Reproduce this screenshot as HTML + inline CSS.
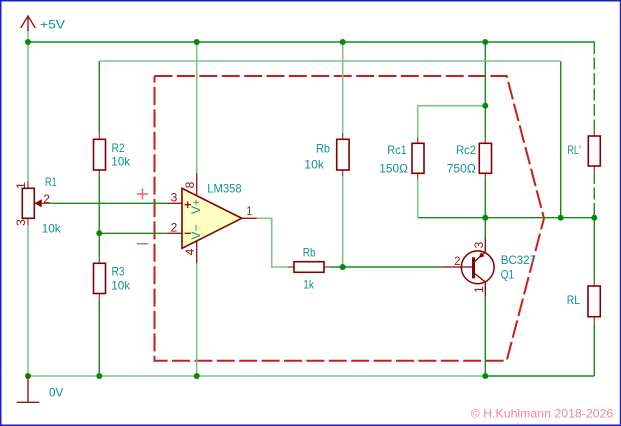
<!DOCTYPE html>
<html><head><meta charset="utf-8"><style>
html,body{margin:0;padding:0;background:#fff;}
svg{display:block;}
text{font-family:"Liberation Sans",sans-serif;font-size:12px;}
.t{fill:#138f8f;}
.p{fill:#8c1010;}
</style></head><body>
<svg width="621" height="426" viewBox="0 0 621 426" xmlns="http://www.w3.org/2000/svg">
<rect x="0" y="0" width="621" height="426" fill="#fff"/>
<rect x="0.75" y="0.75" width="619.8" height="424.5" fill="none" stroke="#1c1cc8" stroke-width="1.5"/>

<!-- red dashed boundary -->
<polyline points="154.5,76 506.7,76 544,218.3 506.7,360.7 154.5,360.7 154.5,76" fill="none" stroke="#c81e1e" stroke-width="2" stroke-dasharray="18,4.4"/>

<!-- dark green wires -->
<g stroke="#178c17" stroke-width="1.4" fill="none">
<line x1="28" y1="42" x2="594.3" y2="42"/>
<line x1="99.3" y1="61" x2="99.3" y2="133"/>
<line x1="99.3" y1="176" x2="99.3" y2="257"/>
<line x1="99.3" y1="299.5" x2="99.3" y2="376"/>
<line x1="50" y1="203.3" x2="166.7" y2="203.3"/>
<line x1="99.3" y1="233.3" x2="166.7" y2="233.3"/>
<line x1="485.3" y1="42" x2="485.3" y2="137"/>
<line x1="485.3" y1="179.5" x2="485.3" y2="237"/>
<line x1="485.3" y1="296.7" x2="485.3" y2="376"/>
<line x1="418" y1="217.7" x2="594.3" y2="217.7"/>
<line x1="560.7" y1="61" x2="560.7" y2="217.7"/>
<line x1="594.3" y1="217.7" x2="594.3" y2="280"/>
<line x1="594.3" y1="322.7" x2="594.3" y2="376"/>
<line x1="485.3" y1="376" x2="594.3" y2="376"/>
<line x1="330" y1="267" x2="441.7" y2="267"/>
<line x1="594.3" y1="42" x2="594.3" y2="130" stroke-dasharray="12,3.5"/>
<line x1="594.3" y1="172" x2="594.3" y2="217.7" stroke-dasharray="12,3.5"/>
</g>
<!-- light green wires -->
<g stroke="#80c680" stroke-width="1.6" fill="none">
<line x1="28" y1="30" x2="28" y2="181"/>
<line x1="28" y1="225" x2="28" y2="376"/>
<line x1="99.3" y1="61" x2="560.7" y2="61"/>
<line x1="196.7" y1="42" x2="196.7" y2="173"/>
<line x1="196.7" y1="263.3" x2="196.7" y2="376"/>
<line x1="342.7" y1="42" x2="342.7" y2="133"/>
<line x1="342.7" y1="176" x2="342.7" y2="267"/>
<polyline points="485.3,105.7 417.7,105.7 417.7,137.3"/>
<polyline points="417.7,179.3 417.7,217.7"/>
<line x1="28" y1="376" x2="485.3" y2="376"/>
<polyline points="256.7,218.3 271.7,218.3 271.7,267 288,267"/>
</g>

<!-- dots -->
<g fill="#088a08">
<circle cx="28" cy="42" r="3"/><circle cx="196.7" cy="42" r="3"/><circle cx="342.7" cy="42" r="3"/><circle cx="485.3" cy="42" r="3"/>
<circle cx="485.3" cy="105.7" r="3"/><circle cx="485.3" cy="217.7" r="3"/><circle cx="560.7" cy="217.7" r="3"/><circle cx="594.3" cy="217.7" r="3"/>
<circle cx="99.3" cy="233.3" r="3"/><circle cx="342.7" cy="267" r="3"/>
<circle cx="28" cy="376" r="3"/><circle cx="99.3" cy="376" r="3"/><circle cx="196.7" cy="376" r="3"/><circle cx="485.3" cy="376" r="3"/>
</g>

<!-- power symbols -->
<g stroke="#8c1a1a" stroke-width="1.4" fill="none">
<line x1="28" y1="16" x2="28" y2="31"/>
<polyline points="20.7,28 28,16 35.3,28"/>
<line x1="28" y1="376" x2="28" y2="402.3"/>
<line x1="16.7" y1="402.3" x2="39.3" y2="402.3"/>
</g>

<!-- resistors -->
<g stroke="#a03434" stroke-width="1.2" fill="none">
<!-- pins -->
<line x1="99.3" y1="133" x2="99.3" y2="139.3"/><line x1="99.3" y1="170" x2="99.3" y2="176"/>
<line x1="99.3" y1="257" x2="99.3" y2="263.3"/><line x1="99.3" y1="293.5" x2="99.3" y2="299.5"/>
<line x1="28" y1="181" x2="28" y2="188.3"/><line x1="28" y1="218.3" x2="28" y2="225"/>
<line x1="342.7" y1="133" x2="342.7" y2="139.3"/><line x1="342.7" y1="170" x2="342.7" y2="176"/>
<line x1="417.7" y1="137.3" x2="417.7" y2="143.3"/><line x1="417.7" y1="173.3" x2="417.7" y2="179.3"/>
<line x1="485.3" y1="137" x2="485.3" y2="143.3"/><line x1="485.3" y1="173.3" x2="485.3" y2="179.5"/>
<line x1="594.3" y1="130" x2="594.3" y2="136"/><line x1="594.3" y1="166" x2="594.3" y2="172"/>
<line x1="594.3" y1="280" x2="594.3" y2="286"/><line x1="594.3" y1="316.7" x2="594.3" y2="322.7"/>
<line x1="288" y1="267" x2="294" y2="267"/><line x1="324" y1="267" x2="330" y2="267"/>
<line x1="34.5" y1="203.3" x2="50" y2="203.3"/>
</g>
<g stroke="#840000" stroke-width="1.6" fill="#fff">
<rect x="93.5" y="139.3" width="12" height="30.7"/>
<rect x="93.5" y="263.3" width="12" height="30.2"/>
<rect x="22.3" y="188.3" width="12" height="30"/>
<rect x="336.7" y="139.3" width="12.4" height="30.7"/>
<rect x="412" y="143.3" width="12" height="30"/>
<rect x="479.3" y="143.3" width="12.2" height="30"/>
<rect x="588.3" y="136" width="12" height="30"/>
<rect x="588" y="286" width="12.3" height="30.7"/>
<rect x="294" y="261.7" width="30" height="10.6"/>
</g>
<polygon points="34.5,203.3 41.7,199.3 41.7,207.3" fill="#840000"/>

<!-- op amp -->
<g stroke="#9a2020" stroke-width="1.4">
<line x1="166.7" y1="203.3" x2="182" y2="203.3"/>
<line x1="166.7" y1="233.3" x2="182" y2="233.3"/>
<line x1="196.7" y1="173" x2="196.7" y2="196"/>
<line x1="196.7" y1="240.8" x2="196.7" y2="263.3"/>
<line x1="241.7" y1="218.3" x2="256.7" y2="218.3"/>
</g>
<polygon points="182,188.3 182,248.3 241.7,218.3" fill="#ffffc2" stroke="#840000" stroke-width="1.6"/>
<g stroke="#8c1010" stroke-width="1.3">
<line x1="184.5" y1="204.7" x2="191" y2="204.7"/><line x1="187.7" y1="201.5" x2="187.7" y2="208"/>
<line x1="184.5" y1="233.3" x2="191" y2="233.3"/>
</g>
<text class="t" transform="translate(200,206.5) rotate(-90)" text-anchor="middle" font-size="10">V+</text>
<text class="t" transform="translate(200,232) rotate(-90)" text-anchor="middle" font-size="10">V−</text>

<!-- +/- outside -->
<g stroke="#e06868" stroke-width="1.5">
<line x1="136.7" y1="194" x2="148.3" y2="194"/><line x1="142.5" y1="188.5" x2="142.5" y2="199.5"/>
<line x1="136.7" y1="243.7" x2="148.3" y2="243.7"/>
</g>

<!-- transistor -->
<circle cx="477.7" cy="267.3" r="16.4" fill="none" stroke="#840000" stroke-width="1.5"/>
<g stroke="#840000" stroke-width="1.3" fill="none">
<line x1="441.7" y1="267" x2="473" y2="267"/>
<line x1="473.5" y1="257.3" x2="473.5" y2="278.3" stroke-width="3"/>
<polyline points="474,262 485.3,252 485.3,237"/>
<polyline points="474,273 485.3,282 485.3,296.7"/>
</g>
<polygon points="478.6,258 484.4,256.2 481,252.4" fill="#840000"/>

<!-- labels teal -->
<text class="t" x="40" y="28.3" textLength="25" lengthAdjust="spacingAndGlyphs">+5V</text>
<text class="t" x="111.5" y="152" textLength="13" lengthAdjust="spacingAndGlyphs">R2</text>
<text class="t" x="111.2" y="165.7" textLength="19" lengthAdjust="spacingAndGlyphs">10k</text>
<text class="t" x="111.5" y="275.7" textLength="13" lengthAdjust="spacingAndGlyphs">R3</text>
<text class="t" x="111.2" y="289.3" textLength="19" lengthAdjust="spacingAndGlyphs">10k</text>
<text class="t" x="45" y="186" textLength="11.7" lengthAdjust="spacingAndGlyphs">R1</text>
<text class="t" x="41.7" y="232.3" textLength="19" lengthAdjust="spacingAndGlyphs">10k</text>
<text class="t" x="207.3" y="192.3" textLength="34.4" lengthAdjust="spacingAndGlyphs">LM358</text>
<text class="t" x="302.7" y="256.7" textLength="13" lengthAdjust="spacingAndGlyphs">Rb</text>
<text class="t" x="303.3" y="288.3" textLength="10.7" lengthAdjust="spacingAndGlyphs">1k</text>
<text class="t" x="316" y="152.7" textLength="14" lengthAdjust="spacingAndGlyphs">Rb</text>
<text class="t" x="304.3" y="168.3" textLength="19.7" lengthAdjust="spacingAndGlyphs">10k</text>
<text class="t" x="387.3" y="154" textLength="19.4" lengthAdjust="spacingAndGlyphs">Rc1</text>
<text class="t" x="379.3" y="172.3" textLength="28.7" lengthAdjust="spacingAndGlyphs">150Ω</text>
<text class="t" x="456" y="154" textLength="20" lengthAdjust="spacingAndGlyphs">Rc2</text>
<text class="t" x="446.7" y="172.3" textLength="29.3" lengthAdjust="spacingAndGlyphs">750Ω</text>
<text class="t" x="567.3" y="154" textLength="13.4" lengthAdjust="spacingAndGlyphs">RL'</text>
<text class="t" x="566.7" y="304" textLength="13.3" lengthAdjust="spacingAndGlyphs">RL</text>
<text class="t" x="500.7" y="264" textLength="35.3" lengthAdjust="spacingAndGlyphs">BC327</text>
<text class="t" x="500.7" y="278.7" textLength="13.3" lengthAdjust="spacingAndGlyphs">Q1</text>
<text class="t" x="49" y="396.7" textLength="14.3" lengthAdjust="spacingAndGlyphs">0V</text>

<!-- pin numbers -->
<text class="p" x="43.3" y="203" textLength="6.7" lengthAdjust="spacingAndGlyphs">2</text>
<text class="p" x="170.7" y="201.7" textLength="6.7" lengthAdjust="spacingAndGlyphs">3</text>
<text class="p" x="170.7" y="231.7" textLength="6.7" lengthAdjust="spacingAndGlyphs">2</text>
<text class="p" x="246.5" y="215" textLength="5.5" lengthAdjust="spacingAndGlyphs">1</text>
<text class="p" x="454.3" y="265" textLength="6.2" lengthAdjust="spacingAndGlyphs">2</text>
<text class="p" transform="translate(25,185.5) rotate(-90)" text-anchor="middle">1</text>
<text class="p" transform="translate(25,222.5) rotate(-90)" text-anchor="middle">3</text>
<text class="p" transform="translate(194,185) rotate(-90)" text-anchor="middle">8</text>
<text class="p" transform="translate(194,252) rotate(-90)" text-anchor="middle">4</text>
<text class="p" transform="translate(483,245) rotate(-90)" text-anchor="middle">3</text>
<text class="p" transform="translate(483,289.7) rotate(-90)" text-anchor="middle">1</text>

<!-- copyright -->
<text x="470.7" y="417.7" fill="#f28a8a" textLength="142.6" lengthAdjust="spacingAndGlyphs">© H.Kuhlmann 2018-2026</text>
</svg>
</body></html>
